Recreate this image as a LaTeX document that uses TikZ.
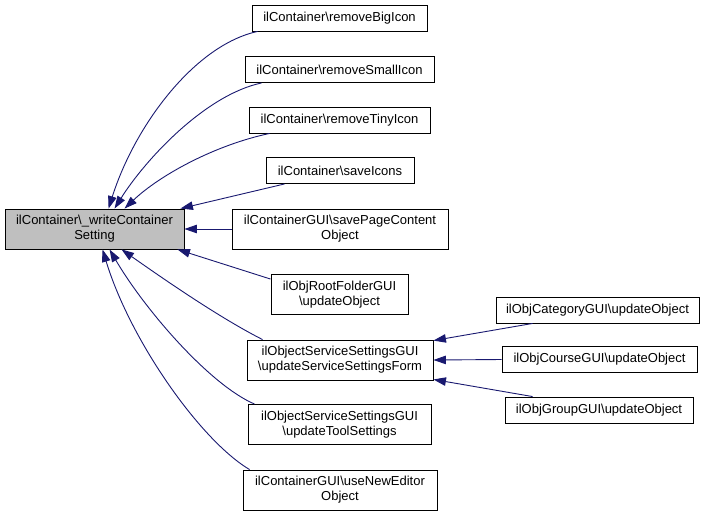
\documentclass[tikz,border=0pt]{standalone}
\usepackage{fontspec}
\setmainfont{Liberation Sans}
\usetikzlibrary{arrows.meta}
\definecolor{edgeblue}{HTML}{191970}
\definecolor{maingray}{HTML}{BFBFBF}
\begin{document}
\begin{tikzpicture}[x=1pt,y=-1pt,
  box/.style={draw=black, line width=0.9pt, fill=white, inner sep=0pt, align=center,
    font=\fontsize{13}{15}\selectfont},
  one/.style={minimum height=26pt},
  two/.style={minimum height=40pt},
  edge/.style={draw=edgeblue, line width=0.9pt, {Triangle[length=12.5pt,width=8.5pt]}-}]
\useasboundingbox (0,0) rectangle (708,517);
\node[box, two, fill=maingray, minimum width=179pt] (main) at (94.5,229) {ilContainer\textbackslash\_writeContainer\\Setting};
\node[box, one, minimum width=175pt] (big) at (339.5,18) {ilContainer\textbackslash removeBigIcon};
\node[box, one, minimum width=189pt] (small) at (339.5,69.5) {ilContainer\textbackslash removeSmallIcon};
\node[box, one, minimum width=181pt] (tiny) at (339.5,120) {ilContainer\textbackslash removeTinyIcon};
\node[box, one, minimum width=148pt] (save) at (340,170.5) {ilContainer\textbackslash saveIcons};
\node[box, two, minimum width=216pt] (page) at (340,229) {ilContainerGUI\textbackslash savePageContent\\Object};
\node[box, two, minimum width=137pt] (root) at (339.5,294.5) {ilObjRootFolderGUI\\\textbackslash updateObject};
\node[box, two, minimum width=186pt] (form) at (340,360) {ilObjectServiceSettingsGUI\\\textbackslash updateServiceSettingsForm};
\node[box, two, minimum width=183pt] (tool) at (339.5,424.5) {ilObjectServiceSettingsGUI\\\textbackslash updateToolSettings};
\node[box, two, minimum width=194pt] (editor) at (340,490) {ilContainerGUI\textbackslash useNewEditor\\Object};
\node[box, one, minimum width=203pt] (cat) at (597.5,310) {ilObjCategoryGUI\textbackslash updateObject};
\node[box, one, minimum width=195pt] (course) at (599.5,359.5) {ilObjCourseGUI\textbackslash updateObject};
\node[box, one, minimum width=188pt] (group) at (599,410) {ilObjGroupGUI\textbackslash updateObject};
% edges into main
\draw[edge] ([xshift=104pt]main.north west) .. controls (135,125) and (195,45) .. ([xshift=6pt]big.south west);
\draw[edge] ([xshift=110pt]main.north west) .. controls (145,160) and (205,95) .. ([xshift=17pt]small.south west);
\draw[edge] ([xshift=120pt]main.north west) .. controls (160,175) and (215,145) .. ([xshift=21pt]tiny.south west);
\draw[edge] ([xshift=-4pt]main.north east) -- ([xshift=19pt]save.south west);
\draw[edge] (main.east) -- (page.west);
\draw[edge] ([xshift=-7pt]main.south east) -- ([yshift=-5pt]root.north west);
\draw[edge] ([xshift=117pt]main.south west) .. controls (165,280) and (220,318) .. ([xshift=16pt]form.north west);
\draw[edge] ([xshift=105pt]main.south west) .. controls (145,310) and (210,385) .. ([xshift=7pt]tool.north west);
\draw[edge] ([xshift=98pt]main.south west) .. controls (130,340) and (200,440) .. ([xshift=7pt]editor.north west);
% edges into form
\draw[edge] ([yshift=-1pt]form.north east) -- ([xshift=37pt]cat.south west);
\draw[edge] (form.east) -- (course.west);
\draw[edge] ([yshift=1pt]form.south east) -- ([xshift=28pt]group.north west);
\end{tikzpicture}
\end{document}
